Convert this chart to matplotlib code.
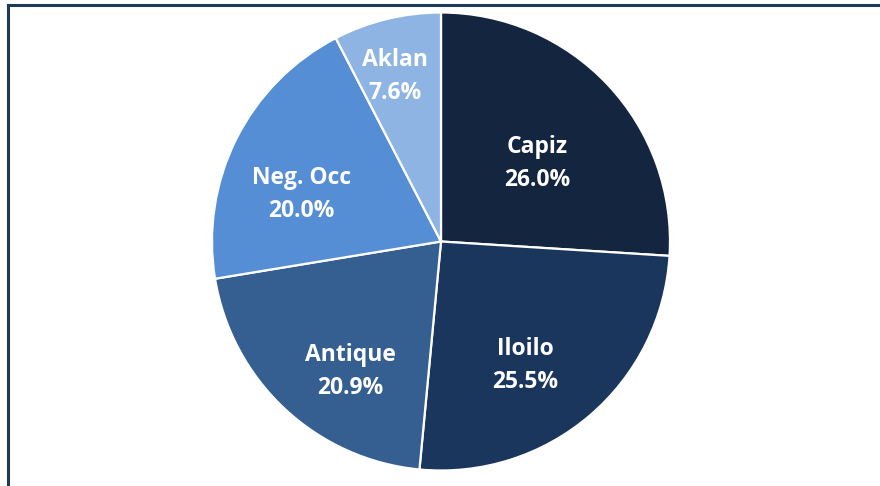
import matplotlib
matplotlib.use("Agg")
import matplotlib.pyplot as plt
from matplotlib.lines import Line2D

categories = ["Capiz", "Iloilo", "Antique", "Neg. Occ", "Aklan"]
shares = [26.0, 25.5, 20.9, 20.0, 7.6]
colors = ["#13253f", "#1a365d", "#355f91", "#558ed5", "#8eb4e3"]
label_pos = [(0.421, 0.340), (0.369, -0.542), (-0.397, -0.566), (-0.609, 0.205), (-0.201, 0.722)]

W, H = 880, 486
fig = plt.figure(figsize=(W / 100, H / 100), dpi=100)
cx, cy, r = 441, 241.5, 229
ax = fig.add_axes([(cx - r) / W, (H - cy - r) / H, 2 * r / W, 2 * r / H])
ax.pie(shares, colors=colors, startangle=90, counterclock=False, radius=1,
       wedgeprops=dict(edgecolor="white", linewidth=1.6))
ax.set_xlim(-1, 1)
ax.set_ylim(-1, 1)
ax.set_aspect("equal")
ax.axis("off")

for name, val, (x, y) in zip(categories, shares, label_pos):
    ax.text(x, y, f"{name}\n{val:.1f}%", ha="center", va="center", color="white",
            fontsize=16.5, fontweight="bold", family=["Open Sans", "DejaVu Sans"],
            linespacing=1.5)

# frame lines (top and left visible)
fig.add_artist(Line2D([8 / W, 8 / W], [0, 1 - 5 / H], transform=fig.transFigure,
                      color="#1f3a58", linewidth=2.2, solid_capstyle="projecting"))
fig.add_artist(Line2D([8 / W, 1], [1 - 5 / H, 1 - 5 / H], transform=fig.transFigure,
                      color="#1f3a58", linewidth=2.2, solid_capstyle="projecting"))

fig.savefig("out.png", dpi=100, facecolor="white")
